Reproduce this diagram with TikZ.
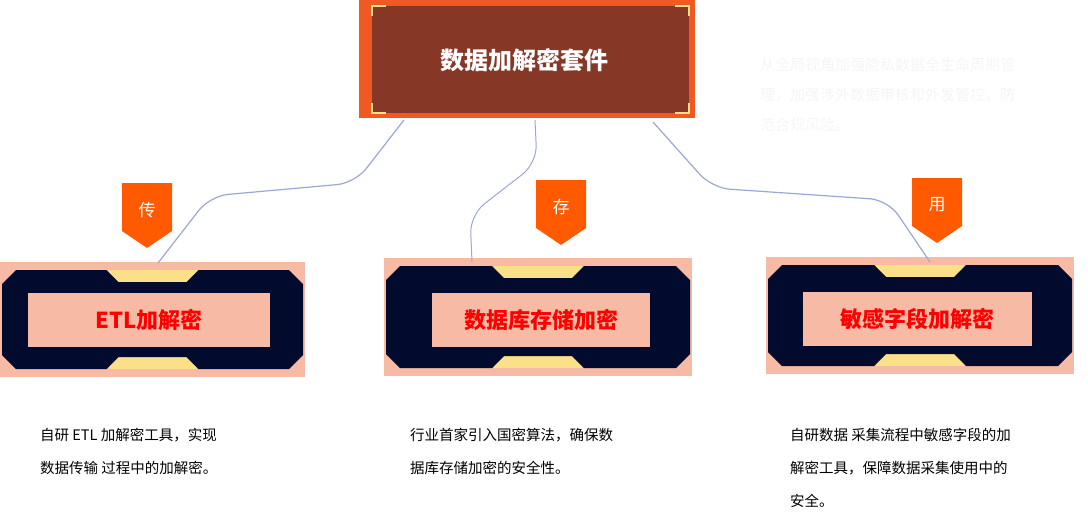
\documentclass[tikz,border=0pt]{standalone}
\usepackage{fontspec}
\setmainfont{Liberation Sans}
\newfontfamily\cjk{Noto Sans CJK SC}
\definecolor{peach}{HTML}{F7BBA5}
\definecolor{navy}{HTML}{020B2E}
\definecolor{gold}{HTML}{FBE08A}
\definecolor{orng}{HTML}{F05A22}
\definecolor{brown}{HTML}{863726}
\definecolor{tabc}{HTML}{FF5A00}
\definecolor{conn}{HTML}{9AA8D2}
\tikzset{
  conn/.style={draw=conn, line width=1.2pt, rounded corners=18pt},
  tab/.style={fill=tabc},
  tabtxt/.style={text=white, font=\cjk\fontsize{17}{20}\selectfont},
  label/.style={fill=peach, inner sep=0pt, text=red, font=\cjk\bfseries\fontsize{22}{26}\selectfont},
  desc/.style={anchor=north west, align=left, text=black, font=\cjk\fontsize{14.5}{33}\selectfont, inner sep=0pt},
}
\newcommand\encbox[4]{% x y w h
  \begin{scope}[shift={(#1,#2)}]
    \pgfmathsetmacro\W{#3}\pgfmathsetmacro\H{#4}
    \pgfmathsetmacro\M{#3/2}
    \fill[peach] (0,0) rectangle (\W,\H);
    \fill[gold] (\M-44,8) rectangle (\M+44,\H-8);
    \fill[navy] (2,22) -- (16,8) -- (\M-46,8) -- (\M-34,20) -- (\M+34,20) -- (\M+46,8)
      -- (\W-16,8) -- (\W-2,22) -- (\W-2,\H-22) -- (\W-16,\H-8) -- (\M+46,\H-8)
      -- (\M+34,\H-20) -- (\M-34,\H-20) -- (\M-46,\H-8) -- (16,\H-8) -- (2,\H-22) -- cycle;
  \end{scope}}
\newcommand\tabmark[3]{% x y text
  \fill[tab] (#1,#2) -- (#1+50,#2) -- (#1+50,#2+48) -- (#1+25,#2+65) -- (#1,#2+48) -- cycle;
  \node[tabtxt] at (#1+25,#2+27) {#3};}
\begin{document}
\begin{tikzpicture}[x=1pt,y=-1pt]
\useasboundingbox (0,0) rectangle (1088,531);
% top box
\fill[orng] (359,0) rectangle (695,118);
\fill[brown] (372,6) rectangle (689,113);
\foreach \cx/\cy/\sx/\sy in {372/6/1/1, 689/6/-1/1, 372/113/1/-1, 689/113/-1/-1}
  \draw[gold, line width=2.5pt] (\cx,\cy+10*\sy) -- (\cx,\cy) -- (\cx+14*\sx,\cy);
\node[text=white, font=\cjk\bfseries\fontsize{24}{28}\selectfont] (top) at (524,60) {数据加解密套件};
\node[anchor=north west, align=left, text=black!4, font=\cjk\fontsize{15}{30}\selectfont, inner sep=0pt] (note) at (760,58)
  {从全局视角加强隐私数据全生命周期管\\理，加强涉外数据审核和外发管控，防\\范合规风险。};
% boxes
\encbox{0}{262}{305}{115}
\encbox{384}{258}{308}{118}
\encbox{766}{257}{308}{117}
\node[label, minimum width=242pt, minimum height=54pt] (b1) at (149,320) {ETL加解密};
\node[label, minimum width=218pt, minimum height=54pt] (b2) at (541,320) {数据库存储加密};
\node[label, minimum width=229pt, minimum height=54pt] (b3) at (917.5,319) {敏感字段加解密};
% connectors
\coordinate (s1) at (404,120); \coordinate (e1) at (158,263);
\coordinate (s2) at (535,120); \coordinate (e2) at (472,262);
\coordinate (s3) at (653,122); \coordinate (e3) at (930,262);
\draw[conn] (s1) -- (355,183) -- (210,196) -- (e1);
\draw[conn, line width=1pt] (s2) -- (537,163) -- (470,215) -- (e2);
\draw[conn] (s3) -- (712,188) -- (888,200) -- (e3);
% tabs
\tabmark{122}{183}{传}
\tabmark{536}{180}{存}
\tabmark{912}{178}{用}
% descriptions
\node[desc] (d1) at (40,428) {自研 ETL 加解密工具，实现\\数据传输 过程中的加解密。};
\node[desc] (d2) at (410,428) {行业首家引入国密算法，确保数\\据库存储加密的安全性。};
\node[desc] (d3) at (790,428) {自研数据 采集流程中敏感字段的加\\解密工具，保障数据采集使用中的\\安全。};
\end{tikzpicture}
\end{document}
